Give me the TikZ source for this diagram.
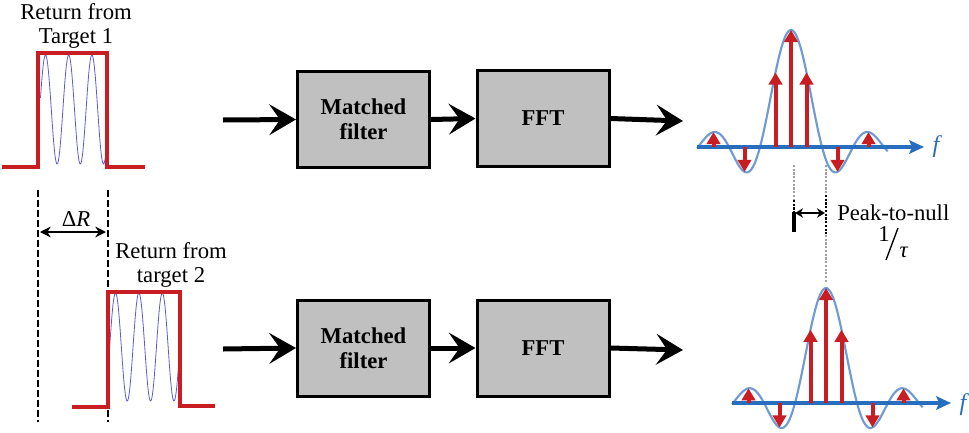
\documentclass[tikz,border=0pt]{standalone}
\usepackage{fontspec}
\setmainfont{Liberation Serif}
\usetikzlibrary{arrows.meta}
\definecolor{pulsered}{RGB}{200,30,35}
\definecolor{sineblue}{RGB}{90,90,210}
\definecolor{curveblue}{RGB}{110,155,210}
\definecolor{axisblue}{RGB}{40,110,190}
\definecolor{boxgray}{RGB}{192,192,192}
\definecolor{dotgray}{RGB}{160,160,160}
\tikzset{
  blockbox/.style={draw=black, line width=2.25pt, fill=boxgray, minimum width=99pt, minimum height=72pt, inner sep=0pt, align=center, font=\fontsize{17}{19}\selectfont\bfseries},
  flow/.style={line width=3.75pt, -{Stealth[length=20pt,width=23pt,inset=8pt]}},
  pulse/.style={pulsered, line width=3pt},
  carrier/.style={sineblue, line width=0.6pt},
  vdash/.style={black, line width=2pt, dash pattern=on 5pt off 2.5pt},
  lbl/.style={font=\fontsize{17}{18.5}\selectfont, align=center, inner sep=0pt},
  sinccurve/.style={curveblue, line width=1.6pt},
  faxis/.style={axisblue, line width=2.4pt, -{Stealth[length=11pt,width=10pt,inset=2pt]}},
  spike/.style={pulsered, line width=3pt, -{Triangle[length=9pt,width=10pt]}},
  gdot/.style={dotgray, line width=2.2pt, dash pattern=on 1.6pt off 1.2pt},
}
\begin{document}
\begin{tikzpicture}[x=0.75pt,y=-0.75pt]
\useasboundingbox (0,0) rectangle (969,432);

% ---------- left: pulses ----------
\node[lbl] (t1) at (76,26) {Return from\\Target 1};
\draw[carrier] plot[domain=40.5:106, samples=120] (\x,{109.5-54.5*cos(15.517*(\x-45.5))});
\draw[pulse] (2,167) -- (38,167) -- (38,53) -- (107,53) -- (107,167) -- (145,167);

\draw[vdash] (38,190) -- (38,422);
\draw[vdash] (108,190) -- (108,422);
\coordinate (dl) at (38,232);
\coordinate (dr) at (108,232);
\draw[line width=1.6pt, {Stealth[length=8pt,width=8pt]}-{Stealth[length=8pt,width=8pt]}, shorten <=1.5pt, shorten >=1.5pt] (dl) -- (dr);
\node[lbl] (dR) at (76,219) {Δ\textit{R}};

\node[lbl] (t2) at (171,265) {Return from\\target 2};
\draw[carrier] plot[domain=109.5:179, samples=120] (\x,{347-54*cos(15.385*(\x-115.5))});
\draw[pulse] (72,407) -- (108,407) -- (108,292) -- (180,292) -- (180,406) -- (215,406);

% ---------- blocks top ----------
\node[blockbox] (mf1) at (363.5,119.5) {Matched\\filter};
\node[blockbox] (fft1) at (543,118.5) {FFT};
\coordinate (in1) at (223,120);
\coordinate (out1) at (683,121);
\draw[flow] (in1) -- (mf1.west);
\draw[flow] (mf1.east) -- (fft1.west);
\draw[flow] (fft1.east) -- (out1);

% ---------- blocks bottom ----------
\node[blockbox] (mf2) at (363.5,348) {Matched\\filter};
\node[blockbox] (fft2) at (543,348) {FFT};
\coordinate (in2) at (223,349);
\coordinate (out2) at (683,350);
\draw[flow] (in2) -- (mf2.west);
\draw[flow] (mf2.east) -- (fft2.west);
\draw[flow] (fft2.east) -- (out2);

% ---------- spectrum top ----------
\coordinate (ax1s) at (697,147);
\coordinate (ax1e) at (924,147);
\draw[sinccurve] plot[domain=-3.03:3.12, samples=160] ({791+31*\x},{147-117*sin(180*\x)/(pi*\x)});
\draw[faxis] (ax1s) -- (ax1e);
\node[font=\fontsize{18}{18}\selectfont\itshape, text=axisblue, inner sep=0pt] (f1) at (936,147) {f};
\foreach \u in {-2.5,-1.5,-0.5,0.5,1.5,2.5}{
  \draw[spike] ({791+31*\u},147) -- ({791+31*\u},{147-117*sin(180*\u)/(pi*\u)});
}
\draw[spike] (791,147) -- (791,30);

% ---------- spectrum bottom ----------
\coordinate (ax2s) at (732,403);
\coordinate (ax2e) at (951,403);
\draw[sinccurve] plot[domain=-3.03:3.12, samples=160] ({826+31*\x},{403-115*sin(180*\x)/(pi*\x)});
\draw[faxis] (ax2s) -- (ax2e);
\node[font=\fontsize{18}{18}\selectfont\itshape, text=axisblue, inner sep=0pt] (f2) at (963,405) {f};
\foreach \u in {-2.5,-1.5,-0.5,0.5,1.5,2.5}{
  \draw[spike] ({826+31*\u},403) -- ({826+31*\u},{403-115*sin(180*\u)/(pi*\u)});
}
\draw[spike] (826,403) -- (826,288);

% ---------- peak-to-null ----------
\draw[gdot] (794,165) -- (794,200);
\draw[black, line width=2pt, dash pattern=on 1.6pt off 1.2pt] (794,200) -- (794,212);
\draw[black, line width=2.4pt] (794,212) -- (794,232);
\draw[gdot] (826,165) -- (826,195);
\draw[black, line width=2pt, dash pattern=on 1.6pt off 1.2pt] (826,195) -- (826,235);
\draw[gdot] (826,235) -- (826,283);
\coordinate (pl) at (795,213);
\coordinate (pr) at (825,213);
\draw[line width=1.5pt, {Stealth[length=6pt,width=7pt]}-{Stealth[length=6pt,width=7pt]}] (pl) -- (pr);
\node[lbl, anchor=west] (ptn) at (837,213) {Peak-to-null};
\node[lbl] (one) at (884,234) {1};
\node[lbl] (tau) at (904,252) {\textit{τ}};
\coordinate (sl1) at (886,260);
\coordinate (sl2) at (898,228);
\draw[line width=1pt] (sl1) -- (sl2);
\end{tikzpicture}
\end{document}
